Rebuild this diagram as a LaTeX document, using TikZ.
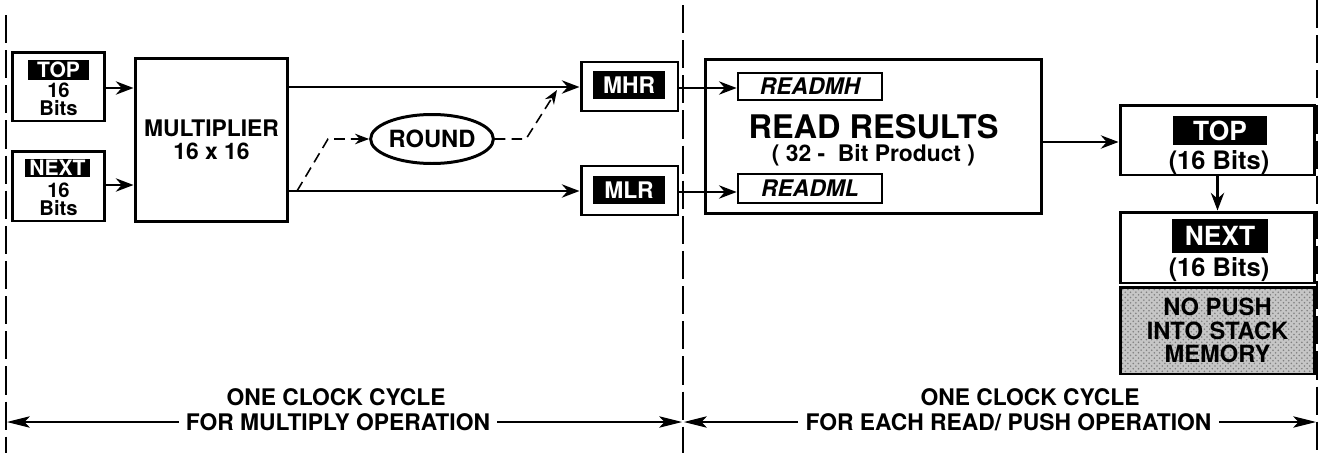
\documentclass[tikz,border=0pt]{standalone}
\usepackage{fontspec}
\setmainfont{TeX Gyre Heros}
\usetikzlibrary{arrows.meta,positioning,shapes.geometric,patterns}

\begin{document}
\begin{tikzpicture}[x=0.02cm,y=-0.02cm,
  every node/.style={font=\bfseries},
  blk/.style={draw,line width=1.7pt,inner sep=0pt},
  tag/.style={fill=black,text=white,inner sep=0pt},
  cmdbox/.style={draw,line width=1.5pt,inner sep=0pt,font=\fontsize{13}{15}\bfseries\itshape},
  flow/.style={-{Stealth[length=10pt,width=7.5pt]},line width=1.7pt},
  roundpath/.style={-{Stealth[length=8pt,width=6pt]},line width=0.9pt,dash pattern=on 6pt off 3.5pt},
  divider/.style={line width=0.8pt,dash pattern=on 16pt off 4pt},
  dim/.style={-{Stealth[length=13pt,width=6.5pt,inset=3pt]},line width=0.6pt},
  cyc/.style={font=\fontsize{13}{15}\bfseries,inner sep=4pt},
]
  \useasboundingbox (0,0) rectangle (1323,453);

  % inputs from the stack
  \node[blk,minimum width=1.86cm,minimum height=1.38cm] (topin) at (58.5,86.5) {};
  \node[tag,minimum width=1.22cm,minimum height=0.4cm,font=\fontsize{12}{13}\bfseries] (topintag) at (58.5,70) {TOP};
  \node[align=center,inner sep=0pt,font=\fontsize{11.5}{10.2}\bfseries] (topinbits) at (58.5,99) {16\\Bits};
  \node[blk,minimum width=1.86cm,minimum height=1.4cm] (nextin) at (58.5,186) {};
  \node[tag,minimum width=1.3cm,minimum height=0.38cm,font=\fontsize{12}{13}\bfseries] (nextintag) at (57.5,168) {NEXT};
  \node[align=center,inner sep=0pt,font=\fontsize{11.5}{10.2}\bfseries] (nextinbits) at (58.5,199) {16\\Bits};

  % multiplier
  \node[blk,minimum width=3.06cm,minimum height=3.28cm,align=center,font=\fontsize{13}{13}\bfseries] (mult) at (211.5,140) {MULTIPLIER\\16 x 16};

  % result registers
  \node[blk,minimum width=1.94cm,minimum height=0.98cm] (mhr) at (629.5,86.5) {};
  \node[tag,minimum width=1.44cm,minimum height=0.56cm,font=\fontsize{13}{15}\bfseries] (mhrtag) at (629,85) {MHR};
  \node[blk,minimum width=1.94cm,minimum height=0.98cm] (mlr) at (629.5,190.5) {};
  \node[tag,minimum width=1.44cm,minimum height=0.56cm,font=\fontsize{13}{15}\bfseries] (mlrtag) at (629,190) {MLR};
  \node[draw,ellipse,line width=1.7pt,minimum width=2.44cm,minimum height=0.98cm,inner sep=0pt,font=\fontsize{13.5}{15}\bfseries] (rnd) at (432,139) {ROUND};

  \draw[flow] (topin.east |- 0,88) -- (mult.west |- 0,88);
  \draw[flow] (nextin.east |- 0,185) -- (mult.west |- 0,185);
  \draw[flow] (mult.east |- 0,87) -- (mhr.west |- 0,87);
  \draw[flow] (mult.east |- 0,191) -- (mlr.west |- 0,191);

  \coordinate (rndstart) at (297,191);
  \coordinate (rndbend) at (328,139);
  \coordinate (rndout) at (526,139);
  \coordinate (rndend) at (557,90);
  \draw[roundpath] (rndstart) -- (rndbend) -- (rnd.west);
  \draw[roundpath] (rnd.east) -- (rndout) -- (rndend);

  % read results
  \node[blk,minimum width=6.74cm,minimum height=3.1cm] (rdres) at (873.5,136.5) {};
  \node[cmdbox,minimum width=2.88cm,minimum height=0.54cm] (readmh) at (810,86.5) {READMH};
  \node[cmdbox,minimum width=2.88cm,minimum height=0.58cm] (readml) at (810,188.5) {READML};
  \node[inner sep=0pt,font=\fontsize{18.5}{20}\bfseries] (rdtitle) at (873.5,127) {READ RESULTS};
  \node[inner sep=0pt,font=\fontsize{13}{15}\bfseries] (rdsub) at (873.5,155) {( 32 -\ \ Bit Product )};

  \draw[flow] (mhr.east |- 0,88) -- (readmh.west |- 0,88);
  \draw[flow] (mlr.east |- 0,192) -- (readml.west |- 0,192);

  % stack after the read
  \node[blk,minimum width=3.9cm,minimum height=1.4cm] (tophold) at (1217.5,140) {};
  \node[tag,minimum width=1.88cm,minimum height=0.58cm,font=\fontsize{15}{17}\bfseries] (topholdtag) at (1220,130.5) {TOP};
  \node[inner sep=0pt,font=\fontsize{14.5}{16}\bfseries] (topholdbits) at (1219,163) {(16 Bits)};
  \node[blk,minimum width=3.9cm,minimum height=1.42cm] (nexthold) at (1217.5,247.5) {};
  \node[tag,minimum width=1.92cm,minimum height=0.68cm,font=\fontsize{15}{17}\bfseries] (nextholdtag) at (1220,236) {NEXT};
  \node[inner sep=0pt,font=\fontsize{14.5}{16}\bfseries] (nextholdbits) at (1219,270) {(16 Bits)};
  \node[blk,minimum width=3.9cm,minimum height=1.74cm,preaction={fill=gray!45},pattern=crosshatch dots,pattern color=black!50,align=center,font=\fontsize{13.5}{13.5}\bfseries] (nopush) at (1217.5,330.5) {NO PUSH\\INTO STACK\\MEMORY};

  \draw[flow] (rdres.east |- 0,142) -- (tophold.west |- 0,142);
  \draw[flow] (tophold.south) -- (nexthold.north);

  % clock cycle boundaries
  \coordinate (divAtop) at (6,15);
  \coordinate (divAbot) at (6,453);
  \coordinate (divBtop) at (683,5);
  \coordinate (divBbot) at (683,453);
  \coordinate (divCtop) at (1317,0);
  \coordinate (divCbot) at (1317,453);
  \draw[divider] (divAtop) -- (divAbot);
  \draw[divider,line width=0.6pt] (divBtop) -- (divBbot);
  \draw[divider,line width=1pt] (divCtop) -- (divCbot);

  \node[cyc] (cycAa) at (336,397) {ONE CLOCK CYCLE};
  \node[cyc] (cycAb) at (338,422) {FOR MULTIPLY OPERATION};
  \node[cyc] (cycBa) at (1030,397) {ONE CLOCK CYCLE};
  \node[cyc] (cycBb) at (1008.5,422) {FOR EACH READ/ PUSH OPERATION};

  \coordinate (cycAl) at (7,422);
  \coordinate (cycAr) at (682,422);
  \coordinate (cycBl) at (684,422);
  \coordinate (cycBr) at (1316,422);
  \draw[dim] (cycAb.west) -- (cycAl);
  \draw[dim] (cycAb.east) -- (cycAr);
  \draw[dim] (cycBb.west) -- (cycBl);
  \draw[dim] (cycBb.east) -- (cycBr);
\end{tikzpicture}
\end{document}
